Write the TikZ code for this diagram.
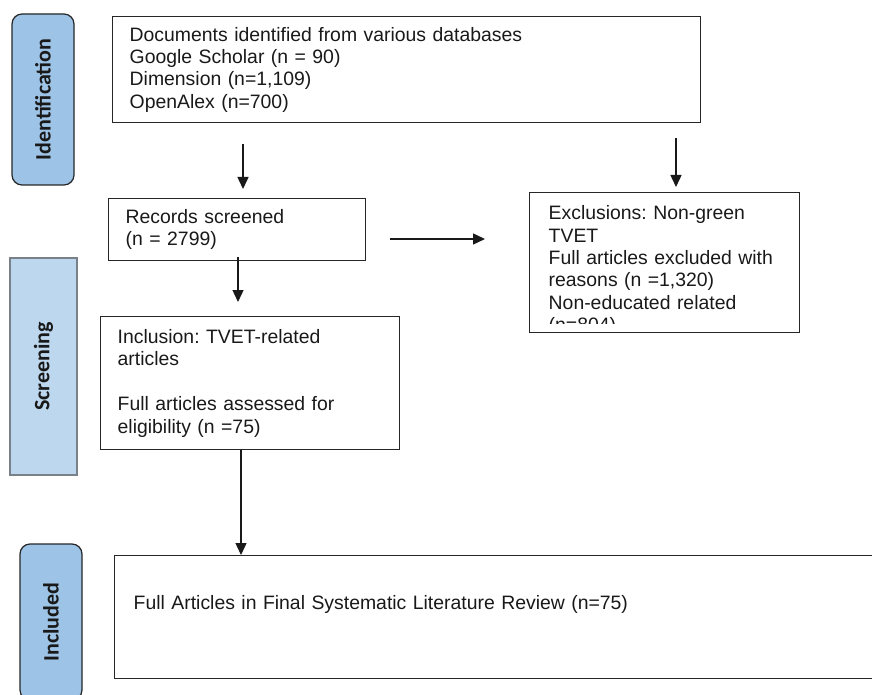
\documentclass[tikz,border=0pt]{standalone}
\usepackage{fontspec}
\setmainfont{Liberation Sans}
\newfontfamily\phasefont{Carlito}
\usepackage{tikz}
\usetikzlibrary{arrows.meta, positioning, calc}
\definecolor{phaseblue}{RGB}{157,195,230}
\definecolor{phaselight}{RGB}{189,215,238}
\definecolor{phasegray}{RGB}{120,128,136}
\frenchspacing

\begin{document}
\begin{tikzpicture}[
    x=1pt, y=-1pt,
    flowbox/.style={draw=black!85, line width=1.4pt, anchor=north west, align=left, inner xsep=17pt, inner ysep=0pt, text=black!90, font=\fontsize{19.4}{22.4}\selectfont},
    phase/.style={rotate=90, draw=black!85, line width=1.2pt, fill=phaseblue, rounded corners=10pt, inner sep=0pt, text=black!90, font=\phasefont\bfseries\fontsize{22}{26}\selectfont},
    flow/.style={-{Triangle[width=11pt,length=12pt]}, line width=1.4pt, draw=black!90}
  ]
  \useasboundingbox (0,0) rectangle (872,695);

  % phase bars
  \node[phase, minimum width=171, minimum height=62] (ident) at (43,99.5) {Identification};
  \node[phase, sharp corners, fill=phaselight, draw=phasegray, minimum width=217, minimum height=67] (screen) at (43.5,366.5) {Screening};
  \node[phase, minimum width=156, minimum height=62] (incl) at (51,622) {Included};

  % flow boxes
  \node[flowbox, text width=554pt, minimum height=106] (sources) at (112,16) {Documents identified from various databases\\ Google Scholar (n = 90)\\ Dimension (n=1,109)\\ OpenAlex (n=700)};
  \node[flowbox, text width=223pt, minimum height=62] (records) at (108,198) {Records screened\\ (n = 2799)};
  \node[flowbox, minimum width=270, minimum height=140] (excl) at (529,192) {};
  \begin{scope}
    \clip (excl.north west) rectangle ($(excl.south east)+(0,-10)$);
    \node[flowbox, draw=none, text width=240pt] (excltext) at ($(excl.north west)+(2,13)$) {Exclusions: Non-green\\ TVET\\ Full articles excluded with\\ reasons (n =1,320)\\ Non-educated related\\ (n=804)};
  \end{scope}
  \node[flowbox, text width=265pt, minimum height=133] (inclusion) at (100,316) {Inclusion: TVET-related\\ articles\\[22.4pt] Full articles assessed for\\ eligibility (n =75)};
  \node[flowbox, inner xsep=19pt, text width=728pt, minimum height=123] (final) at (114,555) {Full Articles in Final Systematic Literature Review (n=75)\\ \strut};

  % connectors
  \draw[flow, shorten <=21pt, shorten >=9pt] (sources.south -| 243,0) -- (records.north -| 243,0);
  \draw[flow, shorten <=15pt, shorten >=5pt] (sources.south -| 676,0) -- (excl.north -| 676,0);
  \draw[flow, shorten <=24pt, shorten >=44pt] (records.east |- 0,239) -- (excl.west |- 0,239);
  \draw[flow, shorten <=-4pt, shorten >=14pt] (records.south -| 238,0) -- (inclusion.north -| 238,0);
  \draw[flow] (inclusion.south -| 241,0) -- (final.north -| 241,0);
\end{tikzpicture}
\end{document}
